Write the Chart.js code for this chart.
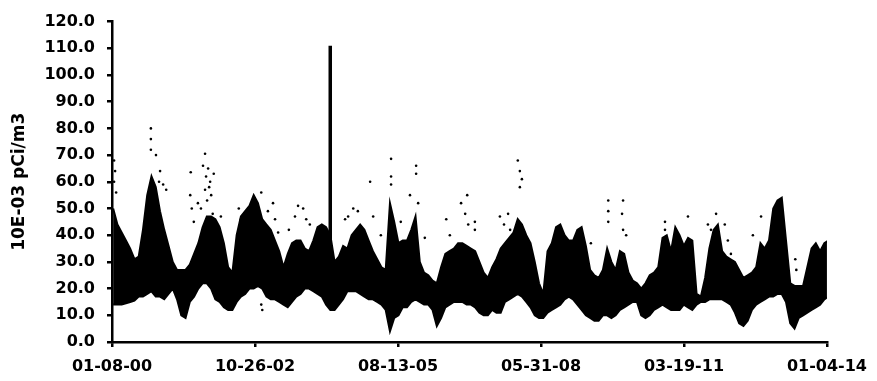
<!DOCTYPE html>
<html><head><meta charset="utf-8">
<script src="https://cdn.jsdelivr.net/npm/chart.js@4.4.1/dist/chart.umd.min.js"></script>
<style>html,body{margin:0;padding:0;background:#fff}canvas{display:block}</style>
</head><body>
<canvas id="c" width="877" height="381"></canvas>
<script>
/* monthly envelope of the daily readings, Jan 2000 .. Jan 2014 */
const START_YEAR=2000;
const BAND_HIGH=[
  50,44,41,38,35,31,32,42,55,62,58,49,42,36,30,27,27,27,29,33,37,43,47,47,
  46,43,37,28,26,40,47,49,51,55,52,46,44,42,38,34,28,33,37,38,38,35,34,38,
  43,44,43,40,30,32,36,35,40,42,44,42,38,34,31,28,27,52,45,37,38,38,42,47,
  30,26,25,23,22,28,33,34,35,37,37,36,35,34,30,26,24,28,31,35,37,39,41,46,
  44,40,37,30,22,18,34,37,43,44,40,38,38,42,43,36,27,25,24,27,35,30,27,34,
  33,26,23,22,20,22,25,26,28,39,40,34,43,40,36,39,38,18,17,24,35,42,44,34,
  32,31,30,27,24,25,26,28,37,35,38,50,53,54,38,22,21,21,21,28,35,37,34,37,
  38
];
const BAND_LOW=[
  14,14,14,14.5,15,15.5,17,17,18,19,17,17,16,18,20,16,10,9,15,17,20,22,22,20,
  16,15,13,12,12,15,17,18,20,20,21,20,17,16,16,15,14,13,15,17,18,20,20,19,
  18,17,14,12,12,14,16,19,19,19,18,17,16,16,15,14,12,4,9,10,13,13,15,16,
  15,14,14,12,6,9,13,14,15,15,15,14,14,13,11,10,10,12,11,11,15,16,17,18,
  17,15,13,10,9,9,11,12,13,14,16,17,16,14,12,10,9,8,8,10,10,9,10,12,
  13,14,15,15,10,9,10,12,13,14,13,12,12,12,14,13,12,14,15,15,16,16,16,16,
  15,14,11,7,6,8,12,14,15,16,17,17,18,18,15,7,5,9,10,11,12,13,14,16,
  17
];
/* isolated readings outside the dense band (decimal year, value) */
const OUT_YEAR=[
  2000.06,2000.08,2000.06,2000.10,
  2000.78,2000.78,2000.78,2000.88,2000.96,2000.94,2001.02,2001.08,
  2001.56,2001.55,2001.58,2001.62,
  2001.80,2001.90,2001.94,2001.84,2001.96,2001.70,2001.76,2001.99,2001.84,2002.01,2001.86,2001.92,2001.88,
  2002.15,2002.50,2002.54,2002.94,2003.07,2003.17,2003.21,2003.27,2003.48,2003.60,2003.66,2003.76,2003.82,2003.89,
  2002.94,2002.96,
  2004.58,2004.64,2004.74,2004.83,2005.07,2005.13,
  2005.48,2005.48,2005.48,2005.28,2005.97,2005.97,2005.85,2006.01,2005.67,2006.14,2006.56,2006.63,
  2006.85,2006.93,2006.99,2006.97,2007.12,2007.12,2007.61,2007.69,2007.81,2007.77,
  2007.96,2008.00,2008.04,2008.00,
  2009.39,2009.73,2009.73,2009.73,2010.02,2010.00,2010.02,2010.08,2010.84,2010.84,
  2011.29,2011.68,2011.74,2011.84,2012.01,2012.07,2012.13,2012.72,2012.56,2013.39,2013.41
];
const OUT_VALUE=[
  68,64,60,56,
  80,76,72,70,64,60,59,57,
  63.6,55,50,45,
  66,65,60,57,55,52,50,48,70.5,63,62,58,53,
  47,50,46,56,49,52,46,41,42,47,51,50,46,44,
  14,12,
  46,47,50,49,60,47,
  68.6,62,59,40,66,63,55,52,45,39,46,40,
  52,48,44,55,45,42,47,44,42,48,
  68,64,61,58,
  37,53,49,45,53,48,42,40,45,42,
  47,44,42,48,44,38,33,47,40,31,27
];
const SPIKE_YEAR=2004.29, SPIKE_LOW=18, SPIKE_HIGH=111;
const TICK_DAYS=[0,1022,2044,3066,4088,5110];
const TICK_LABELS=['01-08-00','10-26-02','08-13-05','05-31-08','03-19-11','01-04-14'];
const Y_TITLE='10E-03 pCi/m3';

// x axis runs in days since 01-08-00
const toDay=yr=>(yr-2000)*365.25-7;
const monthDay=m=>toDay(START_YEAR+(m+0.5)/12);

Chart.defaults.font.family='"DejaVu Sans", sans-serif';
Chart.defaults.font.weight='bold';
Chart.defaults.font.size=16;
Chart.defaults.color='#000';

const lowPts=BAND_LOW.map((v,i)=>({x:monthDay(i),y:v}));
const highPts=BAND_HIGH.map((v,i)=>({x:monthDay(i),y:v}));
const outPts=OUT_YEAR.map((yr,i)=>({x:toDay(yr),y:OUT_VALUE[i]}));
const spikePts=[{x:toDay(SPIKE_YEAR),y:SPIKE_LOW},{x:toDay(SPIKE_YEAR),y:SPIKE_HIGH}];

new Chart(document.getElementById('c'),{
  type:'line',
  data:{datasets:[
    {label:'low',data:lowPts,borderColor:'#000',borderWidth:2,pointRadius:0,fill:false,tension:0},
    {label:'high',data:highPts,borderColor:'#000',borderWidth:2,pointRadius:0,fill:'-1',backgroundColor:'#000',tension:0},
    {label:'spike',data:spikePts,borderColor:'#000',borderWidth:3.5,pointRadius:0,fill:false},
    {label:'out',data:outPts,showLine:false,pointRadius:1.3,pointBackgroundColor:'#000',pointBorderWidth:0,borderColor:'#000'}
  ]},
  options:{
    responsive:false,devicePixelRatio:1,animation:false,
    layout:{padding:{left:0,right:48,top:15,bottom:0}},
    plugins:{legend:{display:false},tooltip:{enabled:false}},
    scales:{
      x:{type:'linear',min:0,max:5110,
        afterFit:s=>{s.height=39;},
        afterBuildTicks:s=>{s.ticks=TICK_DAYS.map(v=>({value:v}));},
        border:{display:true,color:'#000',width:2.5},
        grid:{drawOnChartArea:false,drawTicks:true,tickLength:5,color:'#000',lineWidth:2.5},
        ticks:{padding:10,maxRotation:0,autoSkip:false,callback:v=>TICK_LABELS[TICK_DAYS.indexOf(v)]}
      },
      y:{min:0,max:120,
        afterFit:s=>{s.width=112;},
        border:{display:true,color:'#000',width:2.5},
        grid:{drawOnChartArea:false,drawTicks:true,tickLength:5,color:'#000',lineWidth:2.5},
        ticks:{stepSize:10,padding:12,callback:v=>v.toFixed(1)},
        title:{display:true,text:Y_TITLE,font:{size:17,weight:'bold'},padding:{top:9,bottom:0}}
      }
    }
  }
});
</script>
</body></html>
